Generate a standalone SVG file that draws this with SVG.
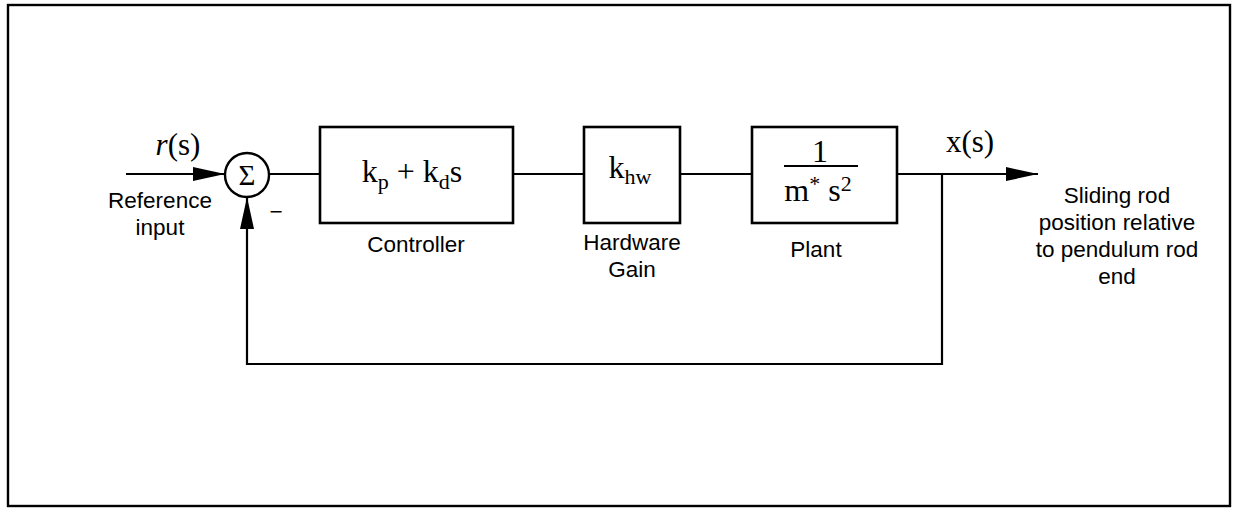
<svg xmlns="http://www.w3.org/2000/svg" width="1233" height="508" viewBox="0 0 1233 508">
<style>
.ln{fill:none;stroke:#000;stroke-width:2.2}
.bx{fill:#fff;stroke:#000;stroke-width:2.6}
.lab{font-family:"Liberation Sans",Arial,sans-serif;font-size:22.5px;fill:#000;text-anchor:middle}
.m{font-family:"Liberation Serif","Times New Roman",serif;font-size:32px;fill:#000;text-anchor:middle}
.sub{font-size:22px}
</style>
<defs>
<marker id="ah" markerWidth="34" markerHeight="14" refX="32" refY="7" orient="auto" markerUnits="userSpaceOnUse">
<path d="M0,0 L32,7 L0,14 Z" fill="#000"/>
</marker>
</defs>
<rect x="8" y="5" width="1222" height="501" fill="#fff" stroke="#000" stroke-width="2.4"/>
<g id="connectors">
<line class="ln" x1="126" y1="174" x2="225" y2="174" marker-end="url(#ah)"/>
<line class="ln" x1="268" y1="174" x2="320" y2="174"/>
<line class="ln" x1="513" y1="174" x2="584" y2="174"/>
<line class="ln" x1="680" y1="174" x2="752" y2="174"/>
<line class="ln" x1="897" y1="174" x2="1038" y2="174" marker-end="url(#ah)"/>
<polyline class="ln" points="942,174 942,364 247,364 247,197" marker-end="url(#ah)"/>
</g>
<g id="sum">
<circle cx="247" cy="175" r="22" fill="#fff" stroke="#000" stroke-width="2.4"/>
<text x="247" y="185" class="m" style="font-size:29px">Σ</text>
<text x="276" y="219" class="lab">−</text>
</g>
<g id="input">
<text x="178" y="155" class="m" style="font-size:31px"><tspan font-style="italic">r</tspan>(s)</text>
<text x="160" y="208" class="lab">Reference</text>
<text x="160" y="235" class="lab">input</text>
</g>
<g id="controller">
<rect class="bx" x="320" y="127" width="193" height="96"/>
<text x="412" y="182" class="m">k<tspan class="sub" dy="7">p</tspan><tspan dy="-7"> + k</tspan><tspan class="sub" dy="7">d</tspan><tspan dy="-7">s</tspan></text>
<text x="416" y="252" class="lab">Controller</text>
</g>
<g id="hardware">
<rect class="bx" x="584" y="127" width="96" height="96"/>
<text x="630" y="178" class="m">k<tspan class="sub" dy="6">hw</tspan></text>
<text x="632" y="250" class="lab">Hardware</text>
<text x="632" y="277" class="lab">Gain</text>
</g>
<g id="plant">
<rect class="bx" x="752" y="127" width="145" height="96"/>
<text x="820" y="162" class="m">1</text>
<line x1="784" y1="166" x2="858" y2="166" stroke="#000" stroke-width="2.2"/>
<text x="818" y="201" class="m">m<tspan class="sub" dy="-10">*</tspan><tspan dy="10"> s</tspan><tspan class="sub" dy="-10">2</tspan></text>
<text x="816" y="257" class="lab">Plant</text>
</g>
<g id="output">
<text x="970" y="152" class="m" style="font-size:31px">x(s)</text>
<text x="1117" y="203" class="lab">Sliding rod</text>
<text x="1117" y="230" class="lab">position relative</text>
<text x="1117" y="257" class="lab">to pendulum rod</text>
<text x="1117" y="284" class="lab">end</text>
</g>
</svg>
